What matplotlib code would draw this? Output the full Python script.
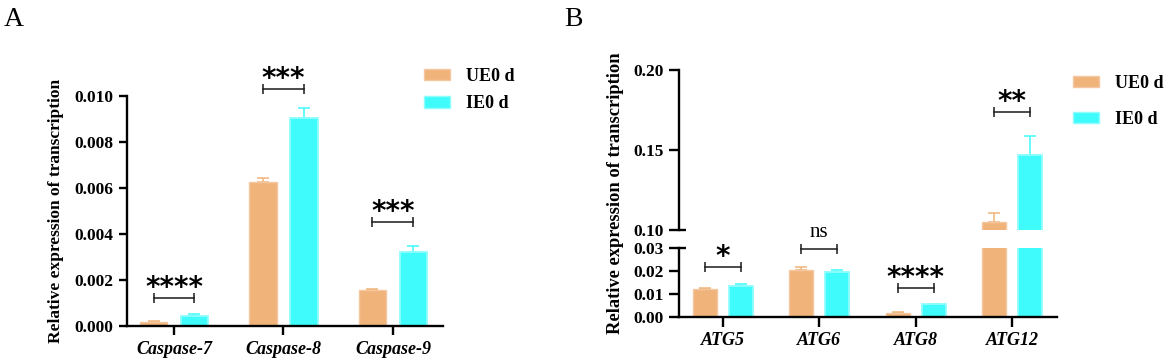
import matplotlib
matplotlib.use("Agg")
import matplotlib.pyplot as plt
import numpy as np
from matplotlib.ticker import FormatStrFormatter

# ---------------- data ----------------
groups = ["UE0 d", "IE0 d"]

casp_genes = ["Caspase-7", "Caspase-8", "Caspase-9"]
casp_ue = [0.00019, 0.00624, 0.00155]
casp_ue_err = [0.00001, 0.00020, 0.00004]
casp_ie = [0.00042, 0.00906, 0.00320]
casp_ie_err = [0.00009, 0.00040, 0.00026]
casp_sig = ["****", "***", "***"]
casp_sig_y = [0.00123, 0.0103, 0.00453]

atg_genes = ["ATG5", "ATG6", "ATG8", "ATG12"]
atg_ue = [0.0120, 0.0205, 0.00146, 0.1052]
atg_ue_err = [0.0004, 0.0011, 0.0004, 0.0052]
atg_ie = [0.01345, 0.0196, 0.0054, 0.1471]
atg_ie_err = [0.0009, 0.0010, 0.0003, 0.0116]
atg_sig = ["*", "ns", "****", "**"]
atg_sig_y = [0.0217, 0.0297, 0.0125, 0.1736]

casp_yticks = [0.000, 0.002, 0.004, 0.006, 0.008, 0.010]
atg_low_yticks = [0.00, 0.01, 0.02, 0.03]
atg_up_yticks = [0.10, 0.15, 0.20]

# ---------------- style ----------------
C_UE = "#F0B47B"
C_UE_EDGE = "#F5C7A0"
C_IE = "#40FBFB"
C_IE_EDGE = "#8EFDFD"
SERIF = "Liberation Serif"
W = 0.25
OFF = 0.187
LW = 1.7

plt.rcParams["font.family"] = SERIF

fig = plt.figure(figsize=(11.69, 3.63), dpi=100)
FW, FH = 1169.0, 363.0


def ax_rect(left, top, right, bottom):
    return [left / FW, (FH - bottom) / FH, (right - left) / FW, (bottom - top) / FH]


def style_axis(ax, ticklen):
    for s in ["top", "right"]:
        ax.spines[s].set_visible(False)
    for s in ["left", "bottom"]:
        ax.spines[s].set_linewidth(LW)
    ax.tick_params(axis="both", width=LW, length=ticklen, direction="out", pad=4)
    for lab in ax.get_yticklabels():
        lab.set_fontweight("bold")
        lab.set_fontsize(12.5)
    ax.patch.set_visible(False)


def draw_bars(ax, n, ue, ue_err, ie, ie_err):
    x = np.arange(n)
    ax.bar(x - OFF, ue, W, color=C_UE, edgecolor=C_UE_EDGE, linewidth=1.0, zorder=2)
    ax.bar(x + OFF, ie, W, color=C_IE, edgecolor=C_IE_EDGE, linewidth=1.3, zorder=2)
    ax.errorbar(x - OFF, ue, yerr=[np.zeros(n), ue_err], fmt="none", ecolor=C_UE,
                elinewidth=1.1, capsize=4.2, capthick=1.1, zorder=1)
    ax.errorbar(x + OFF, ie, yerr=[np.zeros(n), ie_err], fmt="none", ecolor=C_IE,
                elinewidth=1.1, capsize=4.2, capthick=1.1, zorder=1)
    return x


def bracket(ax, xc, y, label):
    x0, x1 = xc - OFF, xc + OFF
    ax.plot([x0, x1], [y, y], color="#1a1a1a", lw=1.1, clip_on=False, zorder=5)
    ax.plot([x0, x1], [y, y], linestyle="none", marker="|", markersize=6.5,
            markeredgewidth=1.1, color="#1a1a1a", clip_on=False, zorder=5)
    if label == "ns":
        ax.annotate(label, xy=(xc, y), xytext=(0, 12.0), textcoords="offset points",
                    ha="center", va="center", fontsize=15, family=SERIF,
                    annotation_clip=False, zorder=6)
    else:
        ax.annotate(label, xy=(xc, y), xytext=(0, 1.5), textcoords="offset points",
                    ha="center", va="baseline", fontsize=20, fontweight="bold",
                    family="DejaVu Sans", annotation_clip=False, zorder=6)


def legend_at(x_px, top_px, spacing):
    return fig.legend(
        handles=[plt.Rectangle((0, 0), 1, 1, facecolor=C_UE, edgecolor=C_UE_EDGE),
                 plt.Rectangle((0, 0), 1, 1, facecolor=C_IE, edgecolor=C_IE_EDGE)],
        labels=groups, loc="upper left", bbox_to_anchor=(x_px / FW, (FH - top_px) / FH),
        frameon=False, borderpad=0, borderaxespad=0, handlelength=1.44,
        handleheight=0.58, handletextpad=0.9, labelspacing=spacing,
        prop={"family": SERIF, "weight": "bold", "size": 13})


# ---------------- panel A ----------------
axA = fig.add_axes(ax_rect(126.7, 96, 443, 326))
xA = draw_bars(axA, len(casp_genes), casp_ue, casp_ue_err, casp_ie, casp_ie_err)
axA.set_xlim(-0.432, 2.457)
axA.set_ylim(0, 0.010)
axA.set_yticks(casp_yticks)
axA.yaxis.set_major_formatter(FormatStrFormatter("%.3f"))
axA.set_xticks(xA)
axA.set_xticklabels(casp_genes, fontsize=13, fontweight="bold", fontstyle="italic")
style_axis(axA, 5.8)
axA.tick_params(axis="x", length=6.5)
axA.set_ylabel("Relative expression of transcription", fontsize=12.5, fontweight="bold")
axA.yaxis.set_label_coords((64 - 126.7) / 316.3, 0.5)
for xc, y, lab in zip(xA, casp_sig_y, casp_sig):
    bracket(axA, xc, y, lab)

legend_at(424, 68, 0.58)

# ---------------- panel B (broken axis) ----------------
axBu = fig.add_axes(ax_rect(679.3, 70, 1056.7, 230))
axBl = fig.add_axes(ax_rect(679.3, 248.3, 1056.7, 316.7))
xB = draw_bars(axBl, len(atg_genes), atg_ue, atg_ue_err, atg_ie, atg_ie_err)
draw_bars(axBu, len(atg_genes), atg_ue, atg_ue_err, atg_ie, atg_ie_err)
for ax in (axBl, axBu):
    ax.set_xlim(-0.45, 3.46)
axBl.set_ylim(0, 0.03)
axBu.set_ylim(0.10, 0.20)
axBl.set_yticks(atg_low_yticks)
axBu.set_yticks(atg_up_yticks)
axBl.yaxis.set_major_formatter(FormatStrFormatter("%.2f"))
axBu.yaxis.set_major_formatter(FormatStrFormatter("%.2f"))
axBl.set_xticks(xB)
axBl.set_xticklabels(atg_genes, fontsize=13, fontweight="bold", fontstyle="italic")
style_axis(axBl, 7.2)
style_axis(axBu, 7.2)
axBu.spines["bottom"].set_visible(False)
axBu.set_xticks([])
axBl.tick_params(axis="x", length=7.2)
# break marks: ticks crossing the spine at the break ends
axBu.plot([0, 6.5 / 377.4], [0, 0], transform=axBu.transAxes, color="k", lw=LW,
          clip_on=False, solid_capstyle="butt")
axBl.plot([0, 6.5 / 377.4], [1, 1], transform=axBl.transAxes, color="k", lw=LW,
          clip_on=False, solid_capstyle="butt")

axBl.set_ylabel("Relative expression of transcription", fontsize=13.3, fontweight="bold")
axBl.yaxis.set_label_coords((624 - 679.3) / 377.4, (316.7 - 193) / 68.4)

for xc, y, lab in zip(xB[:3], atg_sig_y[:3], atg_sig[:3]):
    bracket(axBl, xc, y, lab)
bracket(axBu, xB[3], atg_sig_y[3], atg_sig[3])

legend_at(1072.7, 74.5, 1.08)

# panel letters
fig.text(4 / FW, 1 - 7 / FH, "A", fontsize=20, family=SERIF, va="top", ha="left")
fig.text(564 / FW, 1 - 7 / FH, "B", fontsize=20, family=SERIF, va="top", ha="left")

fig.savefig("out.png", dpi=100)
